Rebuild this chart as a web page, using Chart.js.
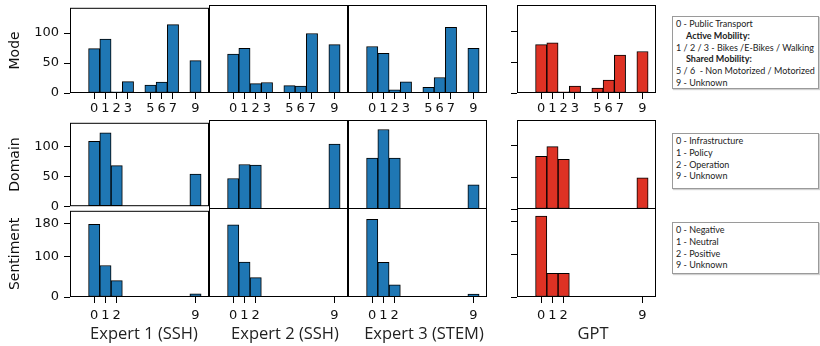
<!DOCTYPE html>
<html>
<head>
<meta charset="utf-8">
<script src="https://cdn.jsdelivr.net/npm/chart.js@4.4.1/dist/chart.umd.min.js"></script>
<style>
  body { margin: 0; width: 820px; height: 346px; overflow: hidden; background: #fff; position: relative; }
  canvas { position: absolute; }
  .xlabel { position: absolute; top: 321px; font: 16.5px 'Open Sans', sans-serif; color: #222; transform: translateX(-50%); white-space: nowrap; }
  .box { position: absolute; left: 672px; width: 147px; border: 1px solid #9a9a9a; box-shadow: 1px 1px 1px #d0d0d0;
         box-sizing: border-box; padding: 1px 0 0 3px; font: 9px Lato, sans-serif; line-height: 11.8px; color: #222; white-space: nowrap; }
  .box b { padding-left: 10px; }
</style>
</head>
<body>
<div class="box" style="top:16px;height:73px">
  0 - Public Transport<br><b>Active Mobility:</b><br>1 / 2 / 3 - Bikes /E-Bikes / Walking<br><b>Shared Mobility:</b><br>5 / 6&nbsp; - Non Motorized / Motorized<br>9 - Unknown
</div>
<div class="box" style="top:133px;height:56px">
  0 - Infrastructure<br>1 - Policy<br>2 - Operation<br>9 - Unknown
</div>
<div class="box" style="top:222px;height:52px">
  0 - Negative<br>1 - Neutral<br>2 - Positive<br>9 - Unknown
</div>
<script>
// classes 0..9 on the x axis (4 and 8 mostly empty)
const categories = [0, 1, 2, 3, 4, 5, 6, 7, 8, 9];
const annotators = ['Expert 1 (SSH)', 'Expert 2 (SSH)', 'Expert 3 (STEM)', 'GPT'];
const aspects = ['Mode', 'Domain', 'Sentiment'];

// counts, one value per category
const modeExpert1 = [74, 90, 2, 19, null, 13, 18, 114, null, 54];
const modeExpert2 = [63, 72, 15, 17, null, 12, 11, 96, null, 78];
const modeExpert3 = [75, 64, 5, 18, 1, 9, 25, 106, null, 72];
const modeGPT     = [78, 81, 2, 11, null, 8, 21, 61, null, 67];

const domainExpert1 = [109, 123, 68, null, null, null, null, null, null, 54];
const domainExpert2 = [48, 70, 69, null, null, null, null, 1, null, 102];
const domainExpert3 = [80, 125, 80, null, null, null, null, null, null, 38];
const domainGPT     = [83, 98, 78, null, null, null, null, null, null, 49];

const sentimentExpert1 = [178, 77, 40, null, null, null, null, null, null, 8];
const sentimentExpert2 = [171, 83, 46, null, null, null, null, null, null, 1];
const sentimentExpert3 = [184, 82, 29, null, null, null, null, null, null, 7];
const sentimentGPT     = [192, 56, 56, null, null, null, null, null, null, 1];

// tick labels
const modeXTicks = [0, 1, 2, 3, 5, 6, 7, 9];
const sentimentXTicks = [0, 1, 2, 9];
const modeYTicks = [0, 50, 100];
const domainYTicks = [0, 50, 100];
const sentimentYTicks = [0, 100, 180];

const table = [
  [modeExpert1, modeExpert2, modeExpert3, modeGPT],
  [domainExpert1, domainExpert2, domainExpert3, domainGPT],
  [sentimentExpert1, sentimentExpert2, sentimentExpert3, sentimentGPT]
];
const xTicksByRow = [modeXTicks, [], sentimentXTicks];
const yTicksByRow = [modeYTicks, domainYTicks, sentimentYTicks];
const yMaxByRow = [142, 140, 211];

// panel geometry (plot areas in page pixels)
const colLeft = [70, 209, 348, 517];
const colRight = [209, 348, 487, 656];
const rowTop = [5, 120, 208];
const rowBottom = [93, 209, 297];

const BLUE = '#1f77b4';
const RED = '#de3224';
const tickFont = { family: 'DejaVu Sans', size: 13 };

// matplotlib-like spines drawn over the bars
const framePlugin = {
  id: 'frame',
  afterDatasetsDraw(chart) {
    const { ctx, chartArea: a } = chart;
    ctx.save();
    ctx.strokeStyle = '#000';
    ctx.lineWidth = 1;
    ctx.strokeRect(a.left + 0.5, a.top + 0.5, a.right - a.left - 1, a.bottom - a.top - 1);
    ctx.restore();
  }
};

function makePanel(r, c) {
  const yW = c === 0 ? 70 : (c === 3 ? 6 : 0);
  const xH = r === 0 ? 27 : (r === 2 ? 24 : 0);
  const padT = 10, padR = 10, padB = 10;
  const w = colRight[c] - colLeft[c] + yW + padR;
  const h = rowBottom[r] - rowTop[r] + padT + xH + padB;

  const canvas = document.createElement('canvas');
  canvas.width = w;
  canvas.height = h;
  canvas.style.left = (colLeft[c] - yW) + 'px';
  canvas.style.top = (rowTop[r] - padT) + 'px';
  canvas.style.width = w + 'px';
  canvas.style.height = h + 'px';
  document.body.appendChild(canvas);

  const values = table[r][c];
  const xt = xTicksByRow[r];
  const yt = yTicksByRow[r];

  new Chart(canvas, {
    type: 'bar',
    data: {
      datasets: [{
        data: categories.map((k, i) => ({ x: k, y: values[i] })),
        backgroundColor: c === 3 ? RED : BLUE,
        borderColor: '#000',
        borderWidth: 1,
        borderSkipped: false,
        barPercentage: 1,
        categoryPercentage: 1
      }]
    },
    options: {
      responsive: false,
      animation: false,
      devicePixelRatio: 1,
      layout: { padding: { top: padT, right: padR, bottom: padB, left: 0 } },
      plugins: { legend: { display: false }, tooltip: { enabled: false } },
      scales: {
        x: {
          type: 'linear',
          min: -2.15,
          max: 10.2,
          offset: false,
          display: r !== 1,
          afterBuildTicks: s => { s.ticks = xt.map(v => ({ value: v })); },
          afterFit: s => { s.height = xH; },
          grid: { drawOnChartArea: false, drawTicks: true, tickLength: 6, color: '#000', offset: false },
          border: { display: false },
          ticks: { autoSkip: false, maxRotation: 0, padding: r === 0 ? 2 : 5, color: '#111', font: tickFont,
                   callback: v => String(v) }
        },
        y: {
          type: 'linear',
          min: 0,
          max: yMaxByRow[r],
          display: c === 0 || c === 3,
          afterBuildTicks: s => { s.ticks = yt.map(v => ({ value: v })); },
          afterFit: s => { s.width = yW; },
          grid: { drawOnChartArea: false, drawTicks: true, tickLength: 6, color: '#000' },
          border: { display: false },
          ticks: { display: c === 0, padding: 5, color: '#111', font: tickFont, callback: v => String(v) },
          title: { display: c === 0, text: aspects[r], color: '#111',
                   font: { family: 'DejaVu Sans', size: 14 }, padding: { top: 6.6, bottom: 0 } }
        }
      }
    },
    plugins: [framePlugin]
  });
}

for (let r = 0; r < 3; r++) {
  for (let c = 0; c < 4; c++) makePanel(r, c);
}

// annotator names under the bottom row
const labelCenters = [144, 285, 424, 593];
annotators.forEach((name, i) => {
  const d = document.createElement('div');
  d.className = 'xlabel';
  d.style.left = labelCenters[i] + 'px';
  d.textContent = name;
  document.body.appendChild(d);
});
</script>
</body>
</html>
